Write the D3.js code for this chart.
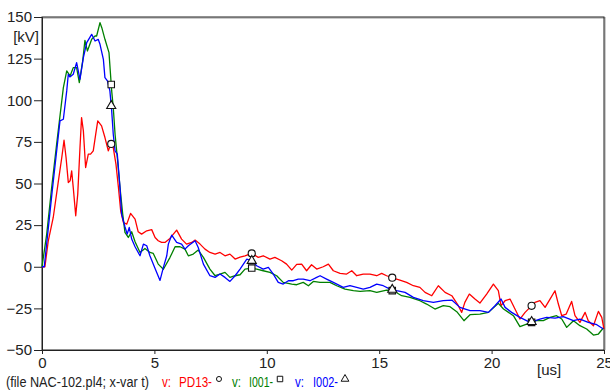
<!DOCTYPE html>
<html>
<head>
<meta charset="utf-8">
<script src="https://cdn.jsdelivr.net/npm/d3@7"></script>
<style>
  body { margin: 0; background: #fff; }
  text { font-family: "Liberation Sans", Arial, sans-serif; }
</style>
</head>
<body>
<div id="chart"></div>
<script>
// tick values
const xTicks = [0, 5, 10, 15, 20, 25];
const yTicks = [-50, -25, 0, 25, 50, 75, 100, 125, 150];

// marker times (us)
const markerTimes = [3.08, 9.33, 15.58, 21.78];

// v: PD13 [t (us), kV]
const pd13 = [[0,0],[0.13,0],[0.28,15.6],[0.50,29.6],[0.73,51.6],[0.88,65.6],[0.98,76],[1.07,65.6],[1.17,50.6],[1.25,51.6],[1.32,57.6],[1.39,47.6],[1.50,30.6],[1.59,43.6],[1.69,71.6],[1.76,89.6],[1.84,81.6],[1.94,59.6],[2.06,67.6],[2.16,67.6],[2.28,69.6],[2.39,79.6],[2.48,87.6],[2.65,84.6],[2.80,77.6],[2.95,69.6],[3.07,74],[3.17,71.6],[3.29,61.6],[3.40,47.6],[3.50,33.6],[3.62,26.6],[3.77,25.6],[3.94,32],[4.14,28.6],[4.28,21],[4.43,19.6],[4.66,21.6],[4.88,22.3],[5.03,17.6],[5.17,15.6],[5.32,14.6],[5.47,14.6],[5.69,17],[5.99,22],[6.21,16.6],[6.43,13.6],[6.66,14.6],[6.81,16],[7.03,13.6],[7.25,10.6],[7.47,8.6],[7.70,7.6],[7.92,8.6],[8.14,6.6],[8.36,7.6],[8.59,4.6],[8.81,5.8],[9.03,6.6],[9.33,8],[9.62,5.6],[9.84,6.6],[10.14,4.6],[10.36,5.6],[10.66,3.6],[10.88,1.6],[11.11,-2],[11.33,1.4],[11.55,1.6],[11.77,-2.4],[11.99,1.2],[12.22,-1.4],[12.51,0],[12.74,1.6],[12.96,-2.4],[13.26,-4],[13.55,-4.4],[13.78,-2.4],[14.00,-5.4],[14.29,-4.4],[14.59,-4.4],[14.89,-5.4],[15.11,-4],[15.33,-5.4],[15.63,-6.8],[15.92,-8],[16.22,-9.4],[16.52,-11.4],[16.81,-12.4],[17.04,-15.4],[17.34,-17.4],[17.63,-11.4],[17.93,-15.4],[18.23,-17.4],[18.52,-23.4],[18.67,-27.4],[18.81,-21.4],[19.01,-16.4],[19.26,-19.4],[19.48,-21.8],[19.78,-16.4],[20.08,-10.4],[20.30,-14.4],[20.42,-23.4],[20.60,-20.4],[20.82,-19.4],[21.04,-25.4],[21.26,-31.4],[21.49,-27.4],[21.71,-24.4],[21.93,-21.4],[22.15,-20.4],[22.38,-24.4],[22.60,-19.4],[22.82,-14.4],[22.97,-22.4],[23.12,-29.4],[23.32,-28.4],[23.56,-20.8],[23.71,-29.4],[23.93,-33.4],[24.16,-27.4],[24.30,-32.4],[24.53,-35.4],[24.75,-26.8],[24.90,-30.4],[25.0,-37.4]];

// v: I001 [t (us), kV]
const i001 = [[0,0],[0.21,19.6],[0.43,47.6],[0.65,73.6],[0.88,99.6],[0.95,107.6],[1.10,117.6],[1.25,114.6],[1.39,119.6],[1.54,119.6],[1.66,110.6],[1.81,123.6],[1.91,136],[2.02,129.6],[2.21,136.6],[2.36,138.6],[2.43,138.6],[2.58,146.6],[2.66,143.6],[2.80,136.6],[2.98,128.6],[3.10,105.6],[3.17,95.6],[3.25,79.6],[3.35,65.6],[3.47,47.6],[3.59,31.6],[3.69,20.6],[3.84,17.6],[3.99,21],[4.14,15],[4.36,8.6],[4.58,11],[4.80,8.6],[4.95,8],[5.17,1.6],[5.40,-1.5],[5.69,5.5],[5.92,12],[6.14,12],[6.36,10.6],[6.51,6.6],[6.73,7.6],[6.95,10],[7.18,5.6],[7.47,-1.4],[7.70,-5.4],[7.92,-4.4],[8.14,-3.4],[8.36,-6.4],[8.59,-5.4],[8.81,-4.8],[9.03,-1.4],[9.33,-0.8],[9.55,-1.4],[9.84,-2.4],[10.14,-3.4],[10.44,-5.4],[10.73,-9.4],[11.11,-10.4],[11.33,-10.8],[11.62,-9.4],[11.85,-11.4],[12.07,-8.8],[12.37,-9.4],[12.81,-9.4],[13.11,-11.4],[13.48,-13.4],[13.85,-14.4],[14.15,-14.8],[14.59,-14.4],[14.89,-15.4],[15.33,-14],[15.63,-14.4],[16.00,-17.4],[16.37,-18.4],[16.81,-20.4],[17.11,-22.4],[17.48,-25.4],[17.85,-23.4],[18.15,-24],[18.45,-27],[18.77,-32.4],[19.04,-28.8],[19.48,-28.4],[19.86,-27.4],[20.30,-22],[20.53,-25.4],[20.97,-29.4],[21.26,-36],[21.56,-34.4],[22.00,-32.4],[22.30,-32.4],[22.60,-30.4],[22.89,-29.4],[23.12,-31.4],[23.34,-36.4],[23.64,-32.4],[23.93,-35.4],[24.23,-37.4],[24.53,-41],[24.75,-40.4],[24.97,-36.8]];

// v: I002 [t (us), kV]
const i002 = [[0,0],[0.1,0],[0.45,45],[0.8,87.6],[0.95,88.6],[1.10,105.6],[1.17,115.6],[1.24,114],[1.39,115.6],[1.54,122.6],[1.69,112.6],[1.84,125.6],[1.99,134.6],[2.21,139.6],[2.36,135.6],[2.50,136.6],[2.58,133.6],[2.73,124.6],[2.80,113.6],[2.91,111.6],[3.02,105.6],[3.10,93.6],[3.17,79.6],[3.25,69.6],[3.35,67.6],[3.47,47.6],[3.54,31.6],[3.69,24],[3.79,19.6],[3.88,23.6],[3.99,16.6],[4.14,12],[4.36,6.6],[4.51,13.6],[4.66,12.6],[4.80,6.6],[5.03,-1],[5.25,-8.2],[5.40,-0.4],[5.55,6.6],[5.62,13.6],[5.77,19],[5.99,14.6],[6.21,13.6],[6.36,10.6],[6.51,12.6],[6.81,15.6],[6.95,11.6],[7.18,1.6],[7.47,-5.4],[7.70,-6.4],[7.92,-4.4],[8.14,-6.4],[8.36,-8.8],[8.59,-5.4],[8.81,-1.4],[9.11,4.6],[9.33,3.6],[9.55,0.6],[9.84,-1.4],[10.07,-0.4],[10.29,-4.4],[10.51,-9.4],[10.73,-10.4],[10.96,-8.4],[11.18,-8.4],[11.40,-7.4],[11.62,-7.4],[11.92,-8.4],[12.22,-6.4],[12.37,-5.4],[12.66,-7.4],[12.96,-9.4],[13.40,-12.4],[13.70,-11.4],[14.00,-12.4],[14.29,-13.4],[14.59,-12.4],[14.89,-10.4],[15.18,-11.4],[15.48,-13.4],[15.78,-14.4],[16.15,-15.4],[16.52,-18.4],[16.96,-20.4],[17.41,-21.4],[17.85,-20.4],[18.23,-20],[18.59,-24.4],[19.04,-26.4],[19.48,-26.4],[19.86,-27.4],[20.15,-23.4],[20.42,-19.4],[20.60,-24.4],[20.89,-27.4],[21.26,-30.4],[21.71,-33.4],[22.15,-31.4],[22.45,-30.4],[22.82,-30.8],[23.19,-30],[23.64,-32.4],[23.93,-31.4],[24.30,-33.4],[24.68,-34.8],[24.97,-37.4]];

const series = [
  { name: "PD13", data: pd13, color: "#ff0000", marker: d3.symbolCircle, size: 40, key: 20 },
  { name: "I001", data: i001, color: "#008000", marker: d3.symbolSquare, size: 42, key: 30 },
  { name: "I002", data: i002, color: "#0000ff", marker: d3.symbolTriangle, size: 36, key: 26 }
];

const W = 610, H = 392;
const marginLeft = 42, marginTop = 17, plotW = 562, plotH = 333;

const svg = d3.select("#chart").append("svg")
  .attr("width", W)
  .attr("height", H);

const x = d3.scaleLinear().domain([0, 25]).range([marginLeft, marginLeft + plotW]);
const y = d3.scaleLinear().domain([-50, 150]).range([marginTop + plotH, marginTop]);

// frame, top and right get a grey shadow
svg.append("line").attr("x1", x(0)).attr("x2", x(25) + 1).attr("y1", y(150) + 1).attr("y2", y(150) + 1)
  .attr("stroke", "#999").attr("stroke-width", 1);
svg.append("line").attr("x1", x(25) + 1).attr("x2", x(25) + 1).attr("y1", y(150)).attr("y2", y(-50))
  .attr("stroke", "#999").attr("stroke-width", 1);
svg.append("rect")
  .attr("x", x(0)).attr("y", y(150))
  .attr("width", x(25) - x(0)).attr("height", y(-50) - y(150))
  .attr("fill", "none").attr("stroke", "#222").attr("stroke-width", 1);

// Y axis
svg.append("g")
  .attr("transform", `translate(${x(0)},0)`)
  .call(d3.axisLeft(y).tickValues(yTicks).tickSize(8).tickPadding(2).tickFormat(d3.format("d")))
  .call(g => g.select(".domain").attr("stroke", "#222"))
  .call(g => g.selectAll(".tick line").attr("stroke", "#222"))
  .call(g => g.selectAll("text").attr("font-size", 15).attr("fill", "#222")
    .style("font-family", "'Liberation Sans', Arial, sans-serif"));

// X axis
svg.append("g")
  .attr("transform", `translate(0,${y(-50)})`)
  .call(d3.axisBottom(x).tickValues(xTicks).tickSize(4).tickPadding(3).tickFormat(d3.format("d")))
  .call(g => g.select(".domain").attr("stroke", "#222"))
  .call(g => g.selectAll(".tick line").attr("stroke", "#222"))
  .call(g => g.selectAll("text").attr("font-size", 15).attr("fill", "#222")
    .style("font-family", "'Liberation Sans', Arial, sans-serif"));

// unit labels
svg.append("text").attr("x", 39).attr("y", 42).attr("text-anchor", "end")
  .attr("font-size", 15).attr("fill", "#222").text("[kV]");
svg.append("text").attr("x", 537).attr("y", 375)
  .attr("font-size", 15).attr("fill", "#222").text("[us]");

// lines
const line = d3.line().x(d => x(d[0])).y(d => y(d[1]));
svg.append("g")
  .selectAll("path")
  .data(series)
  .join("path")
  .attr("fill", "none")
  .attr("stroke", d => d.color)
  .attr("stroke-width", 1.3)
  .attr("stroke-linejoin", "round")
  .attr("d", d => line(d.data));

// markers sit on each curve at the marker times
const bis = d3.bisector(d => d[0]).left;
function valueAt(data, t) {
  const i = Math.max(1, Math.min(data.length - 1, bis(data, t)));
  const a = data[i - 1], b = data[i];
  return a[1] + (b[1] - a[1]) * (t - a[0]) / (b[0] - a[0]);
}
series.forEach(s => {
  svg.append("g")
    .selectAll("path")
    .data(markerTimes)
    .join("path")
    .attr("transform", t => `translate(${x(t)},${y(valueAt(s.data, t))})`)
    .attr("d", d3.symbol().type(s.marker).size(s.size))
    .attr("fill", "#fff")
    .attr("stroke", "#111")
    .attr("stroke-width", 1.1);
});

// legend row at the bottom (the original font is narrow, so squeeze with textLength)
const baseY = 387;
svg.append("text").attr("x", 6).attr("y", baseY).attr("font-size", 14).attr("fill", "#222")
  .attr("textLength", 143).attr("lengthAdjust", "spacingAndGlyphs")
  .text("(file NAC-102.pl4; x-var t)");
const vX = [162, 232, 295];
const nameX = [179, 249, 313];
const nameW = [33, 24, 25];
const keyX = [219, 280, 345];
series.forEach((s, i) => {
  svg.append("text").attr("x", vX[i]).attr("y", baseY).attr("font-size", 14).attr("fill", s.color)
    .attr("textLength", 9).attr("lengthAdjust", "spacingAndGlyphs").text("v:");
  svg.append("text").attr("x", nameX[i]).attr("y", baseY).attr("font-size", 14).attr("fill", s.color)
    .attr("textLength", nameW[i]).attr("lengthAdjust", "spacingAndGlyphs").text(s.name + "-");
  svg.append("path")
    .attr("transform", `translate(${keyX[i]},379)`)
    .attr("d", d3.symbol().type(s.marker).size(s.key))
    .attr("fill", "none")
    .attr("stroke", "#111")
    .attr("stroke-width", 1);
});
</script>
</body>
</html>
